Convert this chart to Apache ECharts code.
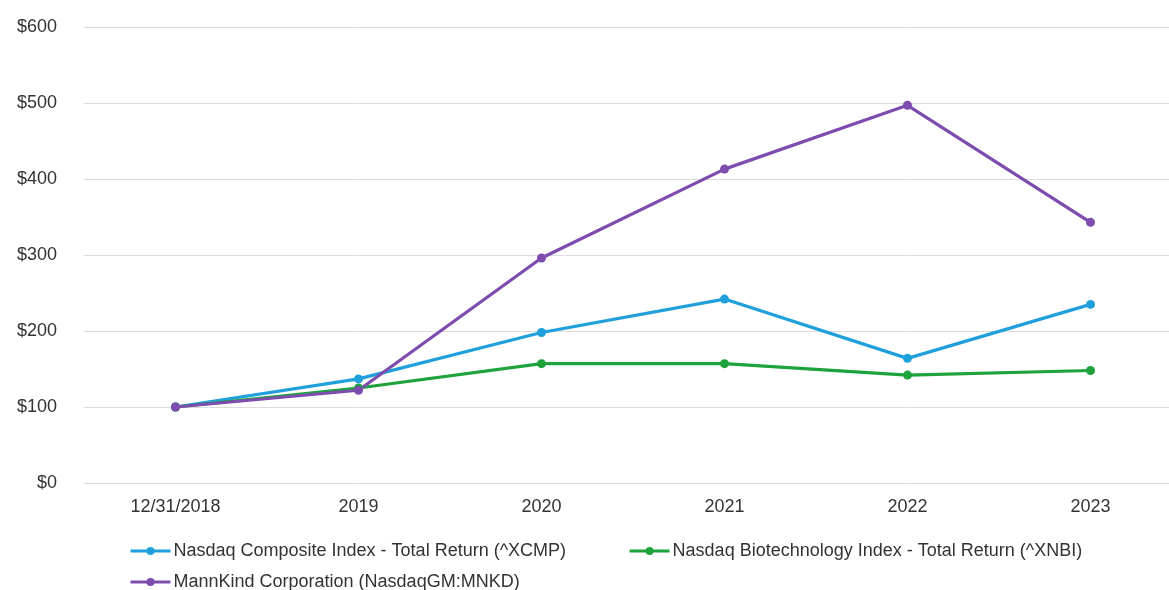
<!DOCTYPE html>
<html>
<head>
<meta charset="utf-8">
<script src="https://cdn.jsdelivr.net/npm/echarts@6/dist/echarts.min.js"></script>
<style>
html,body{margin:0;padding:0;background:#fff;overflow:hidden;width:1169px;height:590px;}
#c{width:1182px;height:590px;}
</style>
</head>
<body>
<div id="c"></div>
<script>
const categories = ['12/31/2018', '2019', '2020', '2021', '2022', '2023'];
const yTicks = [0, 100, 200, 300, 400, 500, 600];
const nasdaqComposite = [100, 137, 198, 242, 164, 235];
const nasdaqBiotech = [100, 125, 157, 157, 142, 148];
const mannKind = [100, 122, 296, 413, 497, 343];
const seriesNames = [
  'Nasdaq Composite Index - Total Return (^XCMP)',
  'Nasdaq Biotechnology Index - Total Return (^XNBI)',
  'MannKind Corporation (NasdaqGM:MNKD)'
];
const colors = ['#1fa0dd', '#1ea33c', '#7e4cae'];

const chart = echarts.init(document.getElementById('c'));
const mk = (name, data, color) => ({
  name, type: 'line', data,
  symbol: 'circle', symbolSize: 9,
  lineStyle: { width: 3.2, color },
  itemStyle: { color },
  z: 2
});
const legendBase = {
  itemWidth: 40, itemHeight: 10, itemGap: 62,
  lineStyle: { width: 3 },
  textStyle: { fontSize: 18, color: '#333', padding: [0, 0, 0, -2] },
  orient: 'horizontal'
};
chart.setOption({
  animation: false,
  textStyle: { fontFamily: 'Liberation Sans, Arial, sans-serif' },
  grid: { left: 84, right: 0, top: 27, height: 456 },
  legend: [
    Object.assign({}, legendBase, { left: 124, top: 537, data: [seriesNames[0], seriesNames[1]] }),
    Object.assign({}, legendBase, { left: 124, top: 568, data: [seriesNames[2]] })
  ],
  xAxis: {
    type: 'category', data: categories, boundaryGap: true,
    axisLine: { lineStyle: { color: '#d9dde3', width: 1 } },
    axisTick: { show: false },
    axisLabel: { fontSize: 18, color: '#333', margin: 15 }
  },
  yAxis: {
    type: 'value', min: yTicks[0], max: yTicks[yTicks.length - 1], interval: 100,
    axisLine: { show: false }, axisTick: { show: false },
    splitLine: { lineStyle: { color: '#dcdcdc', width: 1 } },
    axisLabel: { fontSize: 18, color: '#333', margin: 27, formatter: v => '$' + v }
  },
  series: [
    mk(seriesNames[0], nasdaqComposite, colors[0]),
    mk(seriesNames[1], nasdaqBiotech, colors[1]),
    mk(seriesNames[2], mannKind, colors[2])
  ]
});
</script>
</body>
</html>
